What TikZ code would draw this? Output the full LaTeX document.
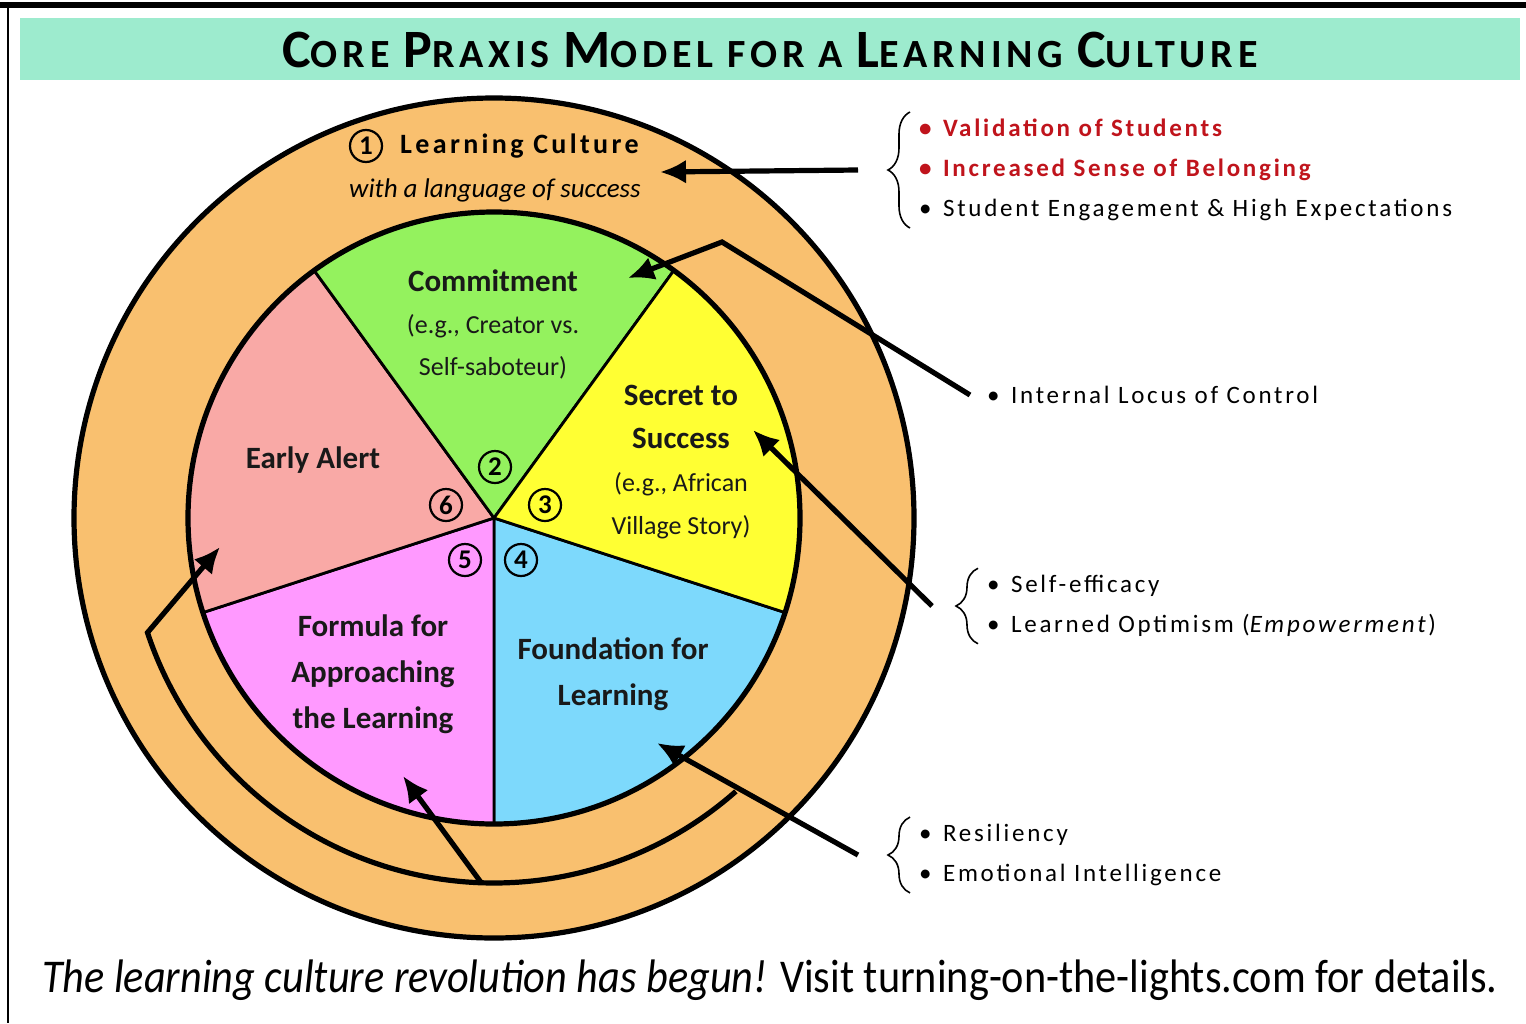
\documentclass[tikz,border=0pt]{standalone}
\usepackage{fontspec}
\setmainfont{Carlito}
\newfontfamily\headfont[LetterSpace=12]{Carlito}
\newfontfamily\listfont[LetterSpace=11]{Carlito}
\newfontfamily\footfont[FakeStretch=0.9]{Carlito}
\usepackage{tikz}
\usetikzlibrary{arrows.meta}
\usetikzlibrary{decorations.pathreplacing}
\usetikzlibrary{positioning}

\definecolor{bandgreen}{HTML}{9DEBCE}
\definecolor{ring}{HTML}{F9C06F}
\definecolor{commitgreen}{HTML}{94F25E}
\definecolor{secretyellow}{HTML}{FFFF33}
\definecolor{foundblue}{HTML}{7DD9FC}
\definecolor{formulapink}{HTML}{FF99FF}
\definecolor{alertrose}{HTML}{F9A9A6}
\definecolor{listred}{HTML}{C0141C}

% small caps built by hand: first letter bigger
\newcommand{\capsletter}[1]{{\fontsize{27}{27}\selectfont #1}}
\newcommand{\bul}{\makebox[12pt][l]{\textbullet}}

\begin{document}
\begin{tikzpicture}[x=0.5pt, y=-0.5pt,
    pointer/.style={line width=2.6pt, -{Latex[length=13pt, width=12pt]}},
    slice/.style={draw=black, line width=1.4pt},
    num/.style={circle, draw=black, line width=1.1pt, minimum size=16pt, inner sep=0pt,
        font=\fontsize{13.5}{13.5}\selectfont\bfseries},
    sectortext/.style={align=center, text=black!90},
    bracket/.style={decorate, decoration={brace, amplitude=11pt}, line width=0.8pt},
    bullets/.style={anchor=west, align=left, font=\listfont\fontsize{12.5}{20}\selectfont}]

    \useasboundingbox (0,0) rectangle (1526,1023);
    \fill[white] (0,0) rectangle (1526,1023);

    % frame and title bar
    \draw[line width=3pt] (0,5) -- (1526,5);
    \draw[line width=1pt] (8,5) -- (8,1023);
    \fill[bandgreen] (20,18) rectangle (1520,80);
    \node[font=\headfont\bfseries\fontsize{20}{20}\selectfont] (title) at (770,50)
        {\capsletter{C}ORE \capsletter{P}RAXIS \capsletter{M}ODEL FOR A \capsletter{L}EARNING \capsletter{C}ULTURE};

    % outer ring and the five slices
    \coordinate (hub) at (494,518);
    \filldraw[fill=ring, line width=2.6pt] (hub) circle[radius=420];
    \foreach \from/\to/\col in {18/90/foundblue, 90/162/formulapink, 162/234/alertrose,
                                234/306/commitgreen, 306/378/secretyellow}
        \filldraw[fill=\col, slice] (hub) -- +(\from:306) arc[start angle=\from, end angle=\to, radius=306] -- cycle;
    \draw[line width=2.6pt] (hub) circle[radius=306];

    % numbers
    \node[num] (n1) at (366,146) {1};
    \node[num] (n2) at (495,467) {2};
    \node[num] (n3) at (545,505) {3};
    \node[num] (n4) at (521,560) {4};
    \node[num] (n5) at (465,560) {5};
    \node[num] (n6) at (446,505) {6};

    % ring text
    \node[right=5pt of n1, font=\headfont\bfseries\fontsize{14}{14}\selectfont] (cultureName) {Learning Culture};
    \node[font=\itshape\fontsize{13.5}{13.5}\selectfont] (cultureMotto) at (495,190) {with a language of success};

    % slice text
    \node[sectortext, font=\fontsize{15.5}{21}\selectfont] (commitText) at (493,324)
        {\textbf{Commitment}\\{\fontsize{13}{21}\selectfont (e.g., Creator vs.}\\{\fontsize{13}{21}\selectfont Self-saboteur)}};
    \node[sectortext, font=\fontsize{15.5}{21.5}\selectfont] (secretText) at (681,462)
        {\textbf{Secret to}\\\textbf{Success}\\{\fontsize{13}{21}\selectfont (e.g., African}\\{\fontsize{13}{21}\selectfont Village Story)}};
    \node[sectortext, font=\fontsize{15.5}{23}\selectfont\bfseries] (alertText) at (313,460) {Early Alert};
    \node[sectortext, font=\fontsize{15.5}{23}\selectfont\bfseries] (formulaText) at (373,674)
        {Formula for\\Approaching\\the Learning};
    \node[sectortext, font=\fontsize{15.5}{23}\selectfont\bfseries] (foundText) at (613,674)
        {Foundation for\\Learning};

    % tips of the arrows inside the model
    \coordinate (cultureTip) at (660,172);
    \coordinate (commitTip) at (628,278);
    \coordinate (locusKnee) at (722,242);
    \coordinate (secretTip) at (753,430);
    \coordinate (foundTip) at (657,743);
    \coordinate (formulaTip) at (403,776);
    \coordinate (alertTip) at (220,547);
    \path (hub) ++(48.5:365) coordinate (ringStart);
    \path (hub) ++(92:365) coordinate (ringMid);

    % outcome lists
    \node[bullets] (cultureList) at (912,170)
        {{\color{listred}\bfseries\bul Validation of Students}\\
         {\color{listred}\bfseries\bul Increased Sense of Belonging}\\
         \bul Student Engagement \& High Expectations};
    \node[bullets] (locusList) at (980,395) {\bul Internal Locus of Control};
    \node[bullets] (efficacyList) at (980,606)
        {\bul Self-efficacy\\ \bul Learned Optimism (\textit{Empowerment})};
    \node[bullets] (resilList) at (912,855)
        {\bul Resiliency\\ \bul Emotional Intelligence};

    \draw[bracket] ([xshift=-1pt]cultureList.south west) -- ([xshift=-1pt]cultureList.north west);
    \draw[bracket] ([xshift=-1pt]efficacyList.south west) -- ([xshift=-1pt]efficacyList.north west);
    \draw[bracket] ([xshift=-1pt]resilList.south west) -- ([xshift=-1pt]resilList.north west);

    % arrows
    \draw[pointer] ([xshift=-27pt]cultureList.west) -- (cultureTip);
    \draw[pointer] ([xshift=-5pt]locusList.west) -- (locusKnee) -- (commitTip);
    \draw[pointer] ([xshift=-24pt]efficacyList.west) -- (secretTip);
    \draw[pointer] ([xshift=-27pt]resilList.west) -- (foundTip);
    \draw[pointer] (ringMid) -- (formulaTip);
    \draw[pointer] (ringStart) arc[start angle=48.5, end angle=161.7, radius=365] -- (alertTip);

    % footer
    \node[font=\footfont\fontsize{23.5}{23.5}\selectfont] (footer) at (770,980)
        {\textit{The learning culture revolution has begun!} Visit turning-on-the-lights.com for details.};

\end{tikzpicture}
\end{document}
